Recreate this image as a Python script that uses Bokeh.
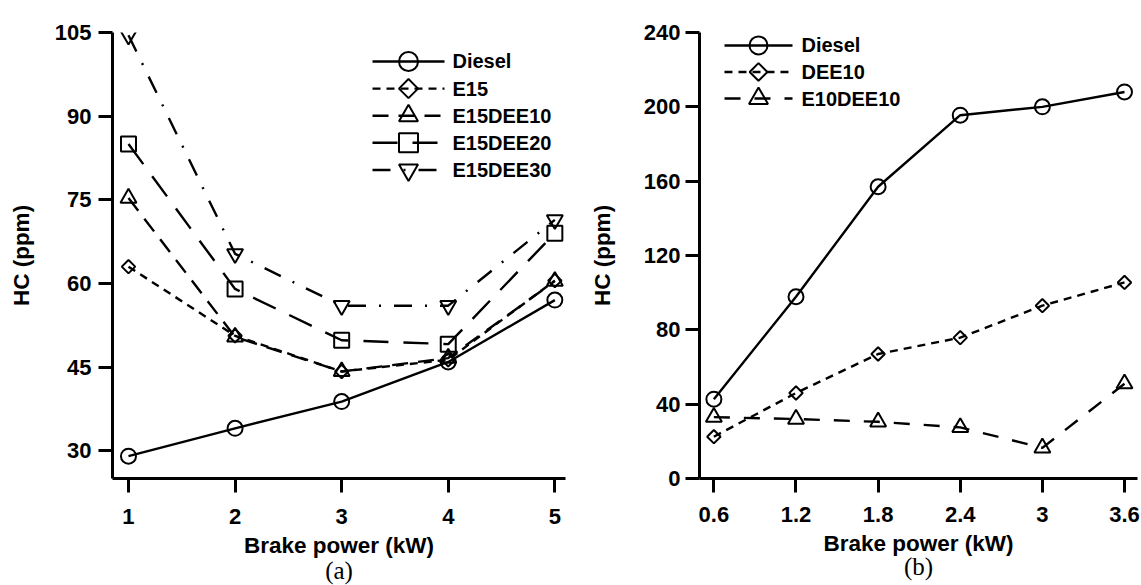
import math

from bokeh.core.properties import value
from bokeh.embed import file_html
from bokeh.layouts import row
from bokeh.models import FixedTicker, Range1d, Title
from bokeh.plotting import figure
from bokeh.resources import INLINE

# ---------------- (a) E15 / DEE blends ----------------
power_a = [1, 2, 3, 4, 5]
diesel_a = [29.0, 34.0, 38.8, 45.9, 57.0]
e15_a = [63.0, 50.6, 44.2, 46.3, 60.5]
e15dee10_a = [75.3, 50.4, 44.2, 46.6, 60.4]
e15dee20_a = [85.0, 59.0, 49.8, 49.1, 69.0]
e15dee30_a = [104.5, 65.3, 56.0, 56.0, 71.4]
yticks_a = [30, 45, 60, 75, 90, 105]

# ---------------- (b) DEE / E10DEE10 ----------------
power_b = [0.6, 1.2, 1.8, 2.4, 3.0, 3.6]
power_b_labels = ["0.6", "1.2", "1.8", "2.4", "3", "3.6"]
diesel_b = [42.7, 97.8, 157.0, 195.5, 200.0, 208.0]
dee10_b = [22.5, 46.0, 67.0, 75.8, 93.0, 105.5]
e10dee10_b = [33.0, 32.0, 30.5, 27.5, 16.5, 51.0]
yticks_b = [0, 40, 80, 120, 160, 200, 240]

SANS = "Liberation Sans"
SERIF = "Liberation Serif"
DIAMOND = math.pi / 4  # a square turned on its corner

# marker styles: (marker, angle, size on the curve, size in the key)
CIRCLE = ("circle", 0.0, 15, 19)
DIAM = ("square", DIAMOND, 9.5, 13.5)
TRI = ("triangle", 0.0, 16, 19)
SQUARE = ("square", 0.0, 15, 19)
INV_TRI = ("inverted_triangle", 0.0, 16, 19)

series_a = [
    ("Diesel", diesel_a, CIRCLE, "solid"),
    ("E15", e15_a, DIAM, "8 6"),
    ("E15DEE10", e15dee10_a, TRI, "16 10"),
    ("E15DEE20", e15dee20_a, SQUARE, "25 15"),
    ("E15DEE30", e15dee30_a, INV_TRI, "18 13 2 13"),
]
series_b = [
    ("Diesel", diesel_b, (CIRCLE[0], 0.0, 15, 18), "solid"),
    ("DEE10", dee10_b, (DIAM[0], DIAMOND, 9.5, 12.5), "8 6"),
    ("E10DEE10", e10dee10_b, (TRI[0], 0.0, 16, 19), "16 14"),
]


def make_panel(width, height, borders, xr, yr, tag, label_standoff, tag_standoff):
    left, right, top, bottom = borders
    p = figure(
        width=width, height=height,
        x_range=Range1d(*xr), y_range=Range1d(*yr),
        output_backend="svg", toolbar_location=None,
        min_border_left=left, min_border_right=right,
        min_border_top=top, min_border_bottom=bottom,
    )
    fw = width - left - right
    fh = height - top - bottom
    # pixel-based ranges for placing the key inside the frame
    p.extra_x_ranges = {"px": Range1d(0, fw)}
    p.extra_y_ranges = {"px": Range1d(0, fh)}
    p.xgrid.visible = False
    p.ygrid.visible = False
    p.outline_line_color = None
    p.background_fill_color = "white"
    p.border_fill_color = "white"
    for ax in (p.xaxis[0], p.yaxis[0]):
        ax.axis_line_width = 3
        ax.axis_line_color = "black"
        ax.major_tick_line_width = 3
        ax.major_tick_line_color = "black"
        ax.major_tick_out = 14
        ax.major_tick_in = 0
        ax.minor_tick_line_color = None
        ax.major_label_text_font = SANS
        ax.major_label_text_font_style = "bold"
        ax.major_label_text_font_size = "22px"
        ax.major_label_text_color = "black"
        ax.axis_label_text_font = SANS
        ax.axis_label_text_font_style = "bold"
        ax.axis_label_text_font_size = "22.5px"
        ax.axis_label_text_color = "black"
    p.xaxis.axis_label = "Brake power (kW)"
    p.yaxis.axis_label = "HC (ppm)"
    p.xaxis.major_label_standoff = label_standoff
    p.xaxis.axis_label_standoff = 6
    # panel tag under the axis title
    p.add_layout(Title(text=tag, align="center", vertical_align="top",
                       text_font=SERIF, text_font_size="25px",
                       text_font_style="normal", text_color="black",
                       standoff=tag_standoff, offset=0),
                 "below")
    return p


def draw_series(p, xs, series):
    for name, ys, (marker, angle, size, _), dash in series:
        p.line(xs, ys, line_color="black", line_width=2.4, line_dash=dash)
        p.scatter(xs, ys, marker=marker, angle=angle, size=size,
                  fill_color=None, line_color="black", line_width=2)


def draw_key(p, series, x0, x1, xt, top, step):
    xm = (x0 + x1) / 2
    for i, (name, _, (marker, angle, _, lsize), dash) in enumerate(series):
        y = top - i * step
        p.line([x0, x1], [y, y], x_range_name="px", y_range_name="px",
               line_color="black", line_width=2.4, line_dash=dash)
        p.scatter([xm], [y], x_range_name="px", y_range_name="px",
                  marker=marker, angle=angle, size=lsize,
                  fill_color=None, line_color="black", line_width=2)
        p.text([xt], [y], text=[name], x_range_name="px", y_range_name="px",
               text_font=value(SANS), text_font_style="bold",
               text_font_size="20px", text_color="black",
               text_baseline="middle", text_align="left")


# ---------------- panel (a) ----------------
pa = make_panel(580, 585, (112, 15, 24, 107), (0.85, 5.1), (25, 105), "(a)", 16, -8)
pa.xaxis.ticker = FixedTicker(ticks=power_a)
pa.yaxis.ticker = FixedTicker(ticks=yticks_a)
pa.yaxis.major_label_standoff = 7
pa.yaxis.axis_label_standoff = 18
draw_series(pa, power_a, series_a)
draw_key(pa, series_a, 260, 332, 340, 424.5, 27.6)

# ---------------- panel (b) ----------------
pb = make_panel(561, 585, (119, 4, 32, 105), (0.495, 3.695), (0, 240), "(b)", 14, -12)
pb.xaxis.ticker = FixedTicker(ticks=power_b)
pb.xaxis.major_label_overrides = dict(zip(power_b, power_b_labels))
pb.yaxis.ticker = FixedTicker(ticks=yticks_b)
pb.yaxis.major_label_standoff = 5
pb.yaxis.axis_label_standoff = 26
draw_series(pb, power_b, series_b)
draw_key(pb, series_b, 25, 93, 102, 435, 26.65)

layout = row(pa, pb)
open("out.html", "w").write(file_html(layout, INLINE))
